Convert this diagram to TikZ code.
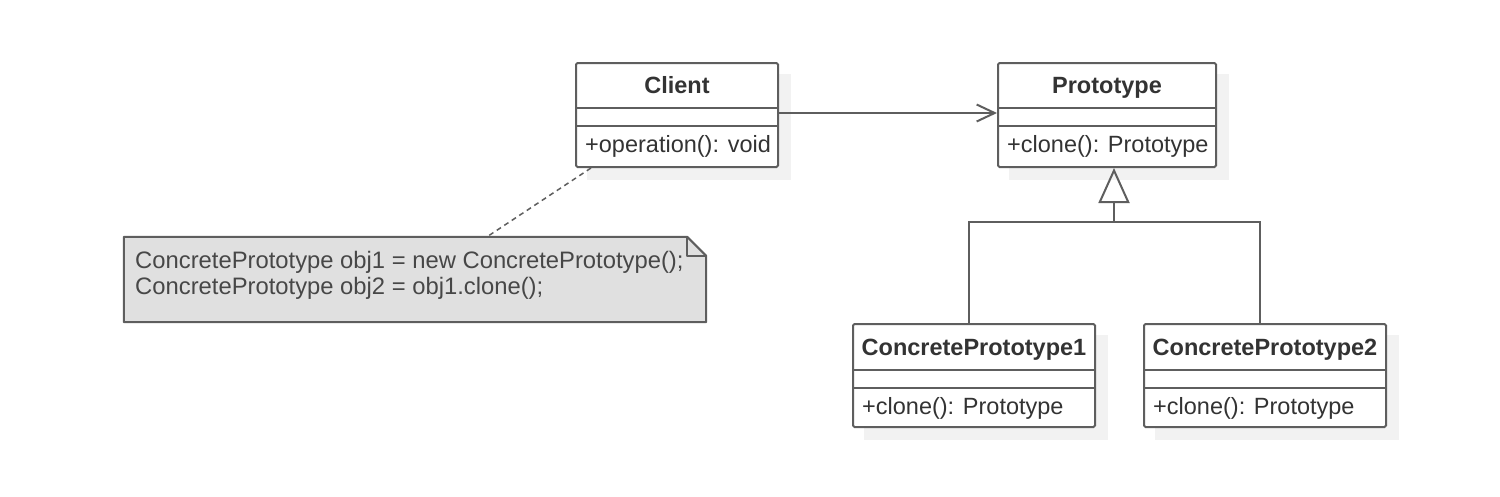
\documentclass[tikz,border=0pt]{standalone}
\usepackage{fontspec}
\setmainfont{Liberation Sans}
\usetikzlibrary{arrows.meta,backgrounds}
\definecolor{edgec}{HTML}{5E5E5E}
\definecolor{txtc}{HTML}{333333}
\definecolor{shadowc}{HTML}{F2F2F2}
\definecolor{notefill}{HTML}{E0E0E0}
\begin{document}
\begin{tikzpicture}[x=1pt,y=-1pt,
  classbox/.style={draw=edgec, line width=2pt, fill=white, rounded corners=1.5pt, inner sep=0pt},
  sepline/.style={draw=edgec, line width=2pt},
  titletxt/.style={font=\fontsize{23.5}{27}\selectfont\bfseries, text=txtc, inner sep=0pt},
  membertxt/.style={font=\fontsize{23.5}{27}\selectfont, text=txtc, inner sep=0pt},
  notetxt/.style={font=\fontsize{23.8}{27}\selectfont, text=txtc!90!white, inner sep=0pt},
  conn/.style={draw=edgec, line width=2pt},
  notelink/.style={draw=edgec, line width=1.5pt, dash pattern=on 5pt off 4pt},
  shadowbox/.style={fill=shadowc}
]
\useasboundingbox (0,0) rectangle (1500,496);

% ---------- classes ----------
\node[classbox, minimum width=202pt, minimum height=104pt] (client) at (677,115) {};
\draw[sepline] (client.west |- 0,108) -- (client.east |- 0,108);
\draw[sepline] (client.west |- 0,126) -- (client.east |- 0,126);
\node[titletxt, anchor=base] (clientT) at (677,93) {Client};
\node[membertxt, anchor=base west] (clientM) at (585,152) {+operation(): void};

\node[classbox, minimum width=218pt, minimum height=104pt] (proto) at (1107,115) {};
\draw[sepline] (proto.west |- 0,108) -- (proto.east |- 0,108);
\draw[sepline] (proto.west |- 0,126) -- (proto.east |- 0,126);
\node[titletxt, anchor=base] (protoT) at (1107,93) {Prototype};
\node[membertxt, anchor=base west] (protoM) at (1007,152) {+clone(): Prototype};

\node[classbox, minimum width=242pt, minimum height=103pt] (cpa) at (974,375.5) {};
\draw[sepline] (cpa.west |- 0,370) -- (cpa.east |- 0,370);
\draw[sepline] (cpa.west |- 0,388) -- (cpa.east |- 0,388);
\node[titletxt, anchor=base] (cpaT) at (974,355) {ConcretePrototype1};
\node[membertxt, anchor=base west] (cpaM) at (862,414) {+clone(): Prototype};

\node[classbox, minimum width=242pt, minimum height=103pt] (cpb) at (1265,375.5) {};
\draw[sepline] (cpb.west |- 0,370) -- (cpb.east |- 0,370);
\draw[sepline] (cpb.west |- 0,388) -- (cpb.east |- 0,388);
\node[titletxt, anchor=base] (cpbT) at (1265,355) {ConcretePrototype2};
\node[membertxt, anchor=base west] (cpbM) at (1153,414) {+clone(): Prototype};

% ---------- shadows ----------
\begin{scope}[on background layer]
  \foreach \n in {client,proto,cpa,cpb}
    \fill[shadowbox] ([shift={(12,12)}]\n.north west) rectangle ([shift={(12,12)}]\n.south east);
\end{scope}

% ---------- note ----------
\node[inner sep=0pt, minimum width=582pt, minimum height=85pt] (note) at (415,279.5) {};
\draw[draw=edgec, line width=2pt, fill=notefill, line join=round]
  (note.north west) -- ([xshift=-19pt]note.north east) -- ([yshift=-19pt]note.north east)
  -- (note.south east) -- (note.south west) -- cycle;
\draw[draw=edgec, line width=2pt, line join=round]
  ([xshift=-19pt]note.north east) -- ([xshift=-19pt,yshift=-19pt]note.north east) -- ([yshift=-19pt]note.north east);
\node[notetxt, anchor=base west] (noteA) at (135,268) {ConcretePrototype obj1 = new ConcretePrototype();};
\node[notetxt, anchor=base west] (noteB) at (135,294) {ConcretePrototype obj2 = obj1.clone();};

% ---------- connectors ----------
\draw[notelink] ([xshift=16pt]client.south west) -- ([xshift=72pt]note.north);

\draw[conn, -{Straight Barb[length=18pt, width=17pt, line width=2pt]}]
  ([yshift=2pt]client.east) -- ([yshift=2pt]proto.west);

\coordinate (junc) at (1114,222);
\coordinate (cpaTop) at ([xshift=-5pt]cpa.north);
\coordinate (cpbTop) at ([xshift=-5pt]cpb.north);
\draw[conn] (cpaTop) |- (junc) -| (cpbTop);
\draw[conn, -{Triangle[open, length=35pt, width=31pt, line width=2pt]}]
  (junc) -- ([xshift=7pt]proto.south);
\end{tikzpicture}
\end{document}
